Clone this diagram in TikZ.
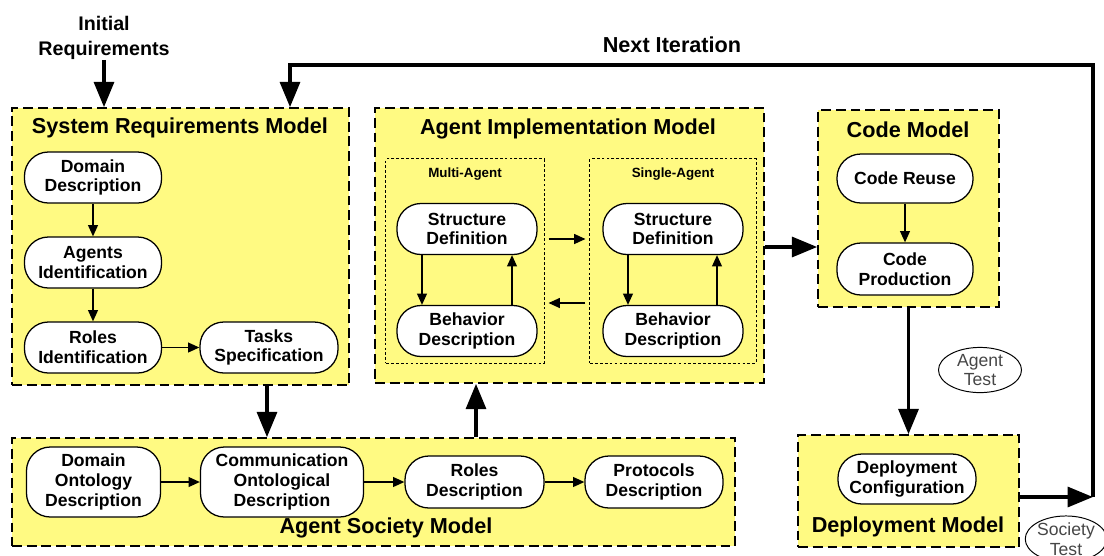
\documentclass[tikz,border=0pt]{standalone}
\usepackage{fontspec}
\setmainfont{Liberation Sans}
\usetikzlibrary{arrows.meta,shapes.geometric}
\definecolor{modelyellow}{RGB}{255,250,130}
\definecolor{testgray}{RGB}{70,70,70}

\begin{document}
\begin{tikzpicture}[x=0.025cm, y=-0.025cm,
    model/.style={draw, fill=modelyellow, line width=1pt, dash pattern=on 7pt off 3.5pt, inner sep=0pt},
    group/.style={draw, line width=0.7pt, dash pattern=on 2pt off 1.5pt, inner sep=0pt},
    title/.style={font=\bfseries\fontsize{15.4}{17}\selectfont, inner sep=0pt},
    subtitle/.style={font=\bfseries\fontsize{9.5}{11}\selectfont, inner sep=0pt},
    activity/.style={draw, fill=white, line width=0.9pt, rounded corners=17pt, align=center,
      font=\bfseries\fontsize{12.5}{14}\selectfont, minimum width=3.425cm, minimum height=1.275cm, inner sep=1pt},
    test/.style={draw, ellipse, line width=0.7pt, align=center, text=testgray,
      font=\fontsize{12.5}{14}\selectfont, inner sep=0pt},
    flow/.style={-{Triangle[width=7pt,length=8pt]}, line width=1pt},
    bigflow/.style={-{Triangle[width=14pt,length=18pt]}, line width=2.8pt},
  ]
  \useasboundingbox (0,0) rectangle (1104,555);

  % Model boxes
  \node[model, minimum width=8.425cm, minimum height=6.925cm] (srm) at (180.5,246.5) {};
  \node[model, minimum width=9.725cm, minimum height=6.875cm] (aim) at (569.5,245.5) {};
  \node[model, minimum width=4.525cm, minimum height=4.925cm] (code) at (908.5,208.5) {};
  \node[model, minimum width=5.525cm, minimum height=2.8cm] (dep) at (908.5,491) {};
  \node[model, minimum width=18.075cm, minimum height=2.7cm] (asm) at (373.5,492) {};
  \node[group, minimum width=3.95cm, minimum height=5.1cm] (multi) at (465,261) {};
  \node[group, minimum width=4.15cm, minimum height=5.1cm] (single) at (673,261) {};

  % Titles
  \node[title] (srmtitle) at (180,128) {System Requirements Model};
  \node[title] (aimtitle) at (568,129) {Agent Implementation Model};
  \node[title] (codetitle) at (908,130) {Code Model};
  \node[title] (deptitle) at (908,527) {Deployment Model};
  \node[title] (asmtitle) at (386,528) {Agent Society Model};
  \node[subtitle] (multititle) at (465,174) {Multi-Agent};
  \node[subtitle] (singletitle) at (673,174) {Single-Agent};
  \node[title, font=\bfseries\fontsize{14}{17.7}\selectfont, align=center] (ir) at (104,38) {Initial\\Requirements};
  \node[title] (nexttitle) at (672,45) {Next Iteration};

  % System Requirements Model
  \node[activity] (dd) at (93,177.5) {Domain\\Description};
  \node[activity] (ai) at (93,262.5) {Agents\\Identification};
  \node[activity] (ri) at (93,347.5) {Roles\\Identification};
  \node[activity, minimum width=3.45cm] (ts) at (269,347.5) {Tasks\\Specification};
  \draw[flow] (dd) -- (ai);
  \draw[flow] (ai) -- (ri);
  \draw[flow] (ri) -- (ts);

  % Agent Implementation Model
  \node[activity, minimum width=3.5cm] (sd1) at (467,229) {Structure\\Definition};
  \node[activity, minimum width=3.5cm] (bd1) at (467,331) {Behavior\\Description};
  \node[activity, minimum width=3.5cm] (sd2) at (673,229) {Structure\\Definition};
  \node[activity, minimum width=3.5cm] (bd2) at (673,331) {Behavior\\Description};
  \draw[flow] ([xshift=-1.125cm]sd1.south) -- ([xshift=-1.125cm]bd1.north);
  \draw[flow] ([xshift=1.125cm]bd1.north) -- ([xshift=1.125cm]sd1.south);
  \draw[flow] ([xshift=-1.125cm]sd2.south) -- ([xshift=-1.125cm]bd2.north);
  \draw[flow] ([xshift=1.1cm]bd2.north) -- ([xshift=1.1cm]sd2.south);
  \coordinate (toright) at (0,239);
  \coordinate (toleft) at (0,303);
  \draw[flow] ([xshift=0.1cm]multi.east |- toright) -- ([xshift=-0.1cm]single.west |- toright);
  \draw[flow] ([xshift=-0.1cm]single.west |- toleft) -- ([xshift=0.1cm]multi.east |- toleft);

  % Code Model
  \node[activity, minimum width=3.4cm, minimum height=1.225cm] (cr) at (905,178.5) {Code Reuse};
  \node[activity, minimum width=3.4cm, minimum height=1.3cm] (cp) at (905,269) {Code\\Production};
  \draw[flow] (cr) -- (cp);

  % Deployment Model
  \node[activity, minimum width=3.45cm, minimum height=1.25cm] (dc) at (907,479) {Deployment\\Configuration};

  % Agent Society Model
  \node[activity, minimum width=3.35cm, minimum height=1.75cm] (dod) at (93.5,482) {Domain\\Ontology\\Description};
  \node[activity, minimum width=4.075cm, minimum height=1.75cm] (cod) at (282,482) {Communication\\Ontological\\Description};
  \node[activity, minimum width=3.475cm, minimum height=1.3cm] (rd) at (474.5,482) {Roles\\Description};
  \node[activity, minimum width=3.45cm, minimum height=1.3cm] (pd) at (654,482) {Protocols\\Description};
  \draw[flow] (dod) -- (cod);
  \draw[flow] (cod) -- (rd);
  \draw[flow] (rd) -- (pd);

  % Tests
  \node[test, minimum width=2.075cm, minimum height=1.1cm] (agenttest) at (980,370) {Agent\\Test};
  \node[test, minimum width=1.95cm, minimum height=1.1cm] (societytest) at (1066,539) {Society\\Test};

  % Process flow
  \coordinate (srmout) at (267,0);
  \coordinate (asmout) at (476,0);
  \coordinate (implout) at (0,247);
  \coordinate (corner) at (1093,497);
  \coordinate (top) at (290,65);
  \draw[bigflow] (ir) -- (srm.north -| ir);
  \draw[bigflow] (srm.south -| srmout) -- (asm.north -| srmout);
  \draw[bigflow] (asm.north -| asmout) -- (aim.south -| asmout);
  \draw[bigflow] (aim.east |- implout) -- (code.west |- implout);
  \draw[bigflow] (code) -- (dep);
  \draw[bigflow] (dep.east |- corner) -- (corner);
  \draw[bigflow] (corner) |- (top) -- (srm.north -| top);
\end{tikzpicture}
\end{document}
